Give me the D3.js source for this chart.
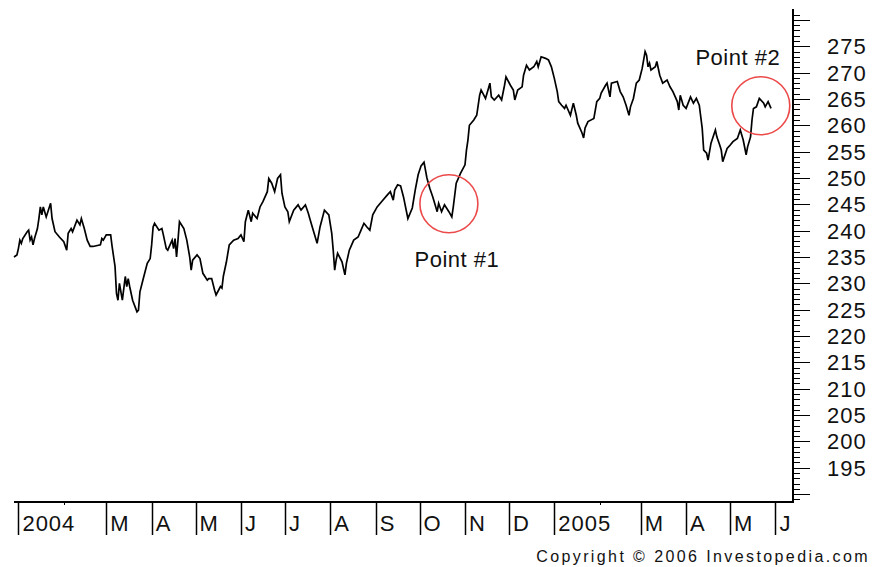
<!DOCTYPE html>
<html>
<head>
<meta charset="utf-8">
<script src="https://cdn.jsdelivr.net/npm/d3@7"></script>
<style>
  body { margin: 0; background: #fff; }
  svg { display: block; }
  text { font-family: "Liberation Sans", Arial, sans-serif; fill: #111; }
</style>
</head>
<body>
<div id="chart"></div>
<script>
/* globals d3 */
// Days since 1 Jan 2004 and closing price
const dayOffset = [
  -3, -1, 0, 1, 2, 3, 6, 7, 8, 9, 10, 11, 13, 14, 15, 16, 17, 19, 22, 23,
  25, 28, 31, 33, 34, 36, 37, 40, 42, 43, 45, 47, 49, 51, 56, 57, 58, 60, 63, 64,
  66, 67, 68, 69, 71, 73, 74, 75, 76, 78, 81, 82, 83, 85, 88, 90, 91, 92, 93, 96,
  98, 99, 101, 102, 104, 105, 106, 107, 108, 109, 110, 113, 115, 117, 118, 119, 122, 124, 126, 129,
  130, 132, 134, 135, 138, 139, 140, 142, 144, 147, 150, 152, 154, 155, 157, 159, 160, 163, 165, 167,
  170, 171, 173, 175, 177, 179, 180, 182, 184, 185, 188, 191, 193, 196, 198, 199, 201, 204, 206, 209,
  212, 214, 215, 216, 217, 218, 221, 223, 224, 226, 229, 232, 234, 236, 238, 240, 242, 245, 248, 252,
  254, 256, 257, 259, 261, 263, 266, 269, 271, 273, 275, 277, 279, 281, 283, 286, 287, 289, 291, 294,
  296, 297, 299, 302, 305, 306, 307, 308, 311, 313, 314, 315, 316, 319, 321, 322, 323, 325, 328, 330,
  332, 333, 336, 338, 339, 341, 344, 345, 347, 349, 352, 354, 355, 357, 360, 362, 364, 366, 368, 369,
  371, 373, 374, 377, 379, 381, 382, 385, 386, 387, 389, 393, 395, 397, 398, 401, 402, 404, 405, 409,
  411, 413, 415, 417, 418, 420, 422, 424, 426, 428, 429, 430, 431, 432, 435, 436, 438, 440, 443, 445,
  447, 450, 451, 452, 454, 456, 459, 461, 463, 465, 467, 468, 470, 471, 473, 476, 477, 479, 480, 481,
  484, 486, 488, 491, 493, 495, 497, 498, 500, 501, 502, 504, 506, 509, 510, 512, 514
]
const closePrice = [
  235.0, 235.4, 236.6, 238.2, 237.6, 238.5, 239.8, 240.1, 238.2, 238.8, 237.3, 238.5, 240.4, 242.3, 244.5, 243.0, 244.5, 242.6, 245.2, 242.3,
  239.8, 238.8, 237.9, 236.3, 239.5, 240.4, 239.8, 242.0, 241.1, 242.3, 240.4, 238.2, 237.0, 237.0, 237.3, 238.5, 238.2, 239.2, 239.2, 237.0,
  233.2, 228.1, 226.8, 230.0, 226.8, 231.3, 229.4, 230.9, 229.4, 226.8, 224.6, 224.9, 228.4, 230.6, 233.8, 234.7, 237.3, 240.7, 241.4, 240.1,
  240.4, 239.2, 236.6, 236.3, 237.6, 238.2, 236.6, 238.5, 235.0, 238.2, 241.7, 240.4, 238.2, 235.0, 232.5, 234.4, 235.4, 234.7, 231.9, 230.6,
  230.9, 230.9, 228.7, 227.8, 229.4, 229.1, 231.4, 234.0, 237.3, 238.2, 238.5, 239.2, 237.9, 241.7, 243.9, 241.7, 243.3, 242.3, 244.5, 245.5,
  247.4, 249.9, 249.0, 247.4, 249.9, 250.6, 247.1, 244.5, 243.6, 241.7, 243.9, 244.9, 243.9, 244.9, 243.3, 242.3, 240.4, 237.6, 240.7, 243.9,
  243.0, 239.5, 236.3, 232.5, 234.4, 235.7, 234.1, 231.6, 233.8, 236.3, 238.2, 238.8, 240.1, 241.4, 240.7, 240.1, 243.0, 244.5, 245.5, 246.8,
  247.4, 245.8, 247.7, 248.7, 248.5, 246.4, 242.3, 244.3, 247.7, 250.6, 252.3, 253.0, 250.0, 248.0, 246.4, 243.6, 245.2, 243.6, 244.9, 243.6,
  242.6, 244.5, 249.0, 250.9, 252.5, 255.3, 257.2, 260.0, 261.0, 261.9, 263.8, 265.7, 266.7, 265.1, 267.0, 268.0, 265.4, 264.8, 265.7, 264.8,
  267.6, 269.2, 267.6, 266.7, 264.8, 266.7, 267.3, 269.5, 271.4, 270.5, 271.1, 272.1, 271.1, 273.0, 272.7, 272.4, 271.1, 268.9, 266.4, 264.5,
  263.8, 263.2, 263.8, 261.9, 264.2, 261.9, 260.4, 258.5, 257.6, 259.5, 260.7, 261.3, 264.5, 265.1, 266.1, 267.6, 268.0, 265.4, 268.0, 268.3,
  266.4, 265.4, 263.8, 261.9, 263.5, 265.1, 268.0, 268.6, 270.8, 274.0, 273.3, 271.1, 271.8, 270.5, 271.1, 272.1, 269.5, 268.0, 268.6, 267.3,
  266.4, 264.5, 262.9, 265.7, 263.8, 263.2, 265.4, 264.2, 265.1, 263.8, 259.4, 255.3, 254.7, 253.4, 256.6, 259.1, 257.8, 256.2, 255.3, 253.1,
  255.6, 256.2, 256.9, 257.5, 259.1, 257.2, 254.4, 255.9, 257.8, 261.0, 263.2, 263.5, 265.1, 264.2, 263.5, 264.5, 263.2
]

// Month ticks: Jan 2004 .. Jun 2005 (February has no label)
const monthLabels = ['2004', '', 'M', 'A', 'M', 'J', 'J', 'A', 'S', 'O', 'N', 'D',
  '2005', '', 'M', 'A', 'M', 'J']
const priceLabels = [195, 200, 205, 210, 215, 220, 225, 230, 235, 240, 245, 250, 255, 260, 265, 270, 275]

// Circled points: days since 1 Jan 2004, price, label
const pointDays = [294, 507]
const pointPrices = [245.1, 263.7]
const pointNames = ['Point #1', 'Point #2']

const width = 873, height = 567
const start = new Date(2004, 0, 1)
const data = dayOffset.map((d, i) => ({ date: d3.timeDay.offset(start, d), value: closePrice[i] }))

const x = d3.scaleTime()
  .domain([new Date(2003, 11, 29), new Date(2005, 5, 13)])
  .range([14, 793])
const y = d3.scaleLinear()
  .domain([188.5, 281.5])
  .range([502, 12])

const svg = d3.select('#chart').append('svg')
  .attr('width', width)
  .attr('height', height)

// Price line
svg.append('path')
  .datum(data)
  .attr('fill', 'none')
  .attr('stroke', '#000')
  .attr('stroke-width', 1.7)
  .attr('d', d3.line().x(d => x(d.date)).y(d => y(d.value)))

// Right price axis
const yAxis = svg.append('g').attr('transform', 'translate(793,0)')
yAxis.append('line')
  .attr('y1', 9).attr('y2', 502)
  .attr('stroke', '#000').attr('stroke-width', 2)
yAxis.selectAll('line.minor')
  .data(d3.range(189, 282))
  .join('line')
  .attr('class', 'minor')
  .attr('x1', 0)
  .attr('x2', d => d % 5 ? 7 : 17)
  .attr('y1', d => Math.round(y(d)) + 0.5)
  .attr('y2', d => Math.round(y(d)) + 0.5)
  .attr('stroke', '#000')
yAxis.selectAll('text')
  .data(priceLabels)
  .join('text')
  .attr('x', 34)
  .attr('y', d => y(d))
  .attr('dy', '0.36em')
  .attr('font-size', 22)
  .attr('letter-spacing', 1)
  .text(d => d)

// Bottom month axis
const months = d3.timeMonth.range(new Date(2004, 0, 1), new Date(2005, 6, 1))
const xAxis = svg.append('g')
xAxis.append('line')
  .attr('x1', 14).attr('x2', 794)
  .attr('y1', 502).attr('y2', 502)
  .attr('stroke', '#000').attr('stroke-width', 2)
xAxis.selectAll('line.tick')
  .data(months)
  .join('line')
  .attr('class', 'tick')
  .attr('x1', d => Math.round(x(d)) + 0.5)
  .attr('x2', d => Math.round(x(d)) + 0.5)
  .attr('y1', 502)
  .attr('y2', (d, i) => monthLabels[i] ? 535 : 505)
  .attr('stroke', '#000')
  .attr('stroke-width', (d, i) => monthLabels[i] ? 1.5 : 1)
xAxis.selectAll('text')
  .data(months)
  .join('text')
  .attr('x', d => x(d) + 4)
  .attr('y', 531)
  .attr('font-size', 22)
  .attr('letter-spacing', 1)
  .text((d, i) => monthLabels[i])

// Circled annotations
const notes = svg.append('g')
notes.selectAll('circle')
  .data(pointDays)
  .join('circle')
  .attr('cx', d => x(d3.timeDay.offset(start, d)))
  .attr('cy', (d, i) => y(pointPrices[i]))
  .attr('r', 29)
  .attr('fill', 'none')
  .attr('stroke', '#ec4a4a')
  .attr('stroke-width', 1.6)
notes.selectAll('text')
  .data(pointDays)
  .join('text')
  .attr('x', (d, i) => x(d3.timeDay.offset(start, d)) + (i ? -23 : 8))
  .attr('y', (d, i) => y(pointPrices[i]) + (i ? -41 : 63))
  .attr('text-anchor', 'middle')
  .attr('font-size', 22)
  .attr('letter-spacing', 0.5)
  .text((d, i) => pointNames[i])

svg.append('text')
  .attr('x', 870)
  .attr('y', 562)
  .attr('text-anchor', 'end')
  .attr('font-family', '"DejaVu Sans", sans-serif')
  .attr('font-size', 16)
  .attr('letter-spacing', 2.4)
  .text('Copyright \u00a9 2006 Investopedia.com')
</script>
</body>
</html>
